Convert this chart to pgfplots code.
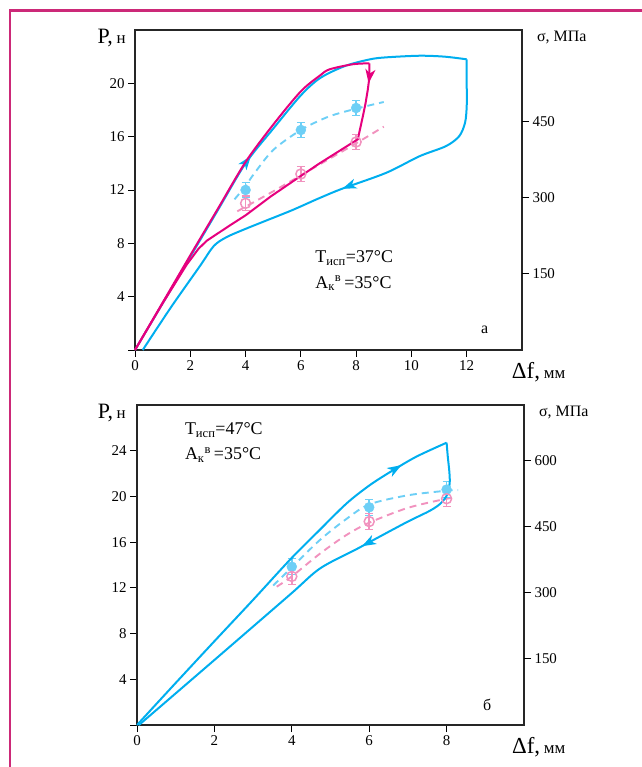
\documentclass[border=0pt]{standalone}
\usepackage{fontspec}
\setmainfont{Liberation Serif}
\usepackage{pgfplots}
\pgfplotsset{compat=1.18}
\usetikzlibrary{decorations.markings,arrows.meta}

\definecolor{cyanL}{RGB}{0,174,239}
\definecolor{magL}{RGB}{230,0,126}
\definecolor{ltblue}{RGB}{109,207,246}
\definecolor{ltpink}{RGB}{241,146,190}
\definecolor{frameC}{RGB}{204,41,120}

\pgfplotsset{
  base/.style={scale only axis, width=387bp, height=320bp,
    axis line style={line width=2.1bp, black!85},
    tick style={line width=0.9bp, black},
    tick align=outside, major tick length=7bp,
    ticklabel style={font=\fontsize{15}{15}\selectfont},
    /pgf/number format/assume math mode=true,
    clip=false},
  leftax/.style={base, xtick pos=bottom, ytick pos=left},
  rightax/.style={base, axis x line=none, axis y line*=right, xmin=0, xmax=1,
    ytick pos=right, axis line style={draw=none}},
  solidc/.style={line width=2bp, smooth, no marks},
  dashc/.style={line width=1.9bp, smooth, no marks, dash pattern=on 7bp off 5bp},
  arr/.style={postaction={decorate}, decoration={markings, mark=at position #1 with {\arrow{Stealth[length=14bp,width=10bp,inset=4bp]}}}},
  bluemk/.style={only marks, mark=*, mark size=5bp, color=ltblue,
    mark options={fill=ltblue, draw=ltblue},
    error bars/.cd, y dir=both, y explicit,
    error bar style={line width=1.5bp, ltblue}, error mark options={rotate=90, mark size=4bp, line width=1.5bp, ltblue}},
  pinkmk/.style={only marks, mark=o, mark size=5bp, color=ltpink,
    mark options={draw=ltpink, line width=1.5bp},
    error bars/.cd, y dir=both, y explicit,
    error bar style={line width=1.5bp, ltpink}, error mark options={rotate=90, mark size=4bp, line width=1.5bp, ltpink}},
}

\begin{document}
\begin{tikzpicture}
\useasboundingbox (0,0) rectangle (642bp,767bp);
\draw[frameC, line width=2.4bp] (9.7bp,0) -- (9.7bp,756.3bp) -- (642bp,756.3bp);

% ---------------- Panel a ----------------
\begin{axis}[leftax, name=pa, at={(135bp,417bp)}, anchor=south west,
  xmin=0, xmax=14, ymin=0, ymax=24,
  xtick={0,2,4,6,8,10,12}, ytick={0,4,8,12,16,20}, yticklabels={,4,8,12,16,20}]
\addplot[dashc, ltblue] coordinates {(3.6,11.3) (4.0,12.3) (4.3,13.2) (5.0,15.0) (6.0,16.5) (7.0,17.5) (8.0,18.1) (9.0,18.6)};
\addplot[dashc, ltpink] coordinates {(3.7,10.4) (5,11.9) (6,13.1) (7,14.3) (8,15.5) (9,16.75)};
\addplot[bluemk] coordinates {(4,12.0) +- (0,0.55) (6,16.5) +- (0,0.55) (8,18.15) +- (0,0.55)};
\addplot[pinkmk] coordinates {(4,11.0) +- (0,0.55) (6,13.2) +- (0,0.55) (8,15.6) +- (0,0.55)};
% cyan loop
\addplot[solidc, cyanL, arr=226bp] coordinates {(0,0) (1,3.5) (2,7.0) (3,10.5) (4,14.0) (5,16.6) (6,19.1) (6.7,20.4) (7.6,21.3) (8.5,21.8) (9.1,21.95) (10.3,22.07) (11.2,22.0) (12,21.8)};
\addplot[solidc, cyanL, arr=207bp] coordinates {(12,21.8) (12.0,20.0) (12.0,18.3) (11.94,17.05) (11.73,16.04) (11.25,15.29) (10.29,14.53) (9.09,13.29) (7.5,12.1) (6.68,11.4) (5.7,10.5) (4.8,9.75) (3.9,9.0) (3.3,8.45) (2.85,7.8) (2.35,6.3) (1.3,3.2) (0.28,0)};
% magenta loop
\addplot[solidc, magL] coordinates {(0,0) (1,3.55) (2,7.1) (3,10.6) (4,14.1) (5,16.9) (6,19.4) (6.7,20.6) (7.04,21.05) (7.88,21.43) (8.48,21.5)};
\addplot[line width=2bp, no marks, magL, arr=20bp] coordinates {(8.48,21.5) (8.47,20.3) (8.42,19.5) (8.34,18.5) (8.24,17.5) (8.06,15.8) (6.68,14.0) (5.96,13.0) (4.9,11.5) (4.0,10.1) (3.4,9.3) (3.0,8.75) (2.6,8.2) (2.3,7.6) (1.87,6.4) (1,3.5) (0,0)};
\node[anchor=west, font=\fontsize{18}{18}\selectfont] at (axis cs:6.4,6.9) {T\textsubscript{исп}=37°C};
\node[anchor=west, font=\fontsize{18}{18}\selectfont] at (axis cs:6.4,5.0) {A\textsubscript{к}\textsuperscript{в}\,=35°C};
\node[font=\fontsize{16}{16}\selectfont] at (axis cs:12.65,1.5) {а};
\node[anchor=east] at (rel axis cs:-0.015,0.975) {\fontsize{22}{22}\selectfont P,\,\fontsize{17}{17}\selectfont н};
\node[anchor=west] at (rel axis cs:0.965,-0.068) {\fontsize{23}{23}\selectfont Δf,\,\fontsize{17}{17}\selectfont мм};
\end{axis}
\begin{axis}[rightax, at={(135bp,417bp)}, anchor=south west, ymin=0, ymax=630, ytick={150,300,450}]
\node[anchor=west, font=\fontsize{16}{16}\selectfont] at (rel axis cs:1.03,0.975) {σ, МПа};
\end{axis}

% ---------------- Panel b ----------------
\begin{axis}[leftax, name=pb, at={(137bp,42bp)}, anchor=south west,
  xmin=0, xmax=10, ymin=0, ymax=28,
  xtick={0,2,4,6,8}, ytick={0,4,8,12,16,20,24}, yticklabels={,4,8,12,16,20,24}]
\addplot[dashc, ltblue] coordinates {(3.52,12.2) (4.0,13.8) (4.73,16.2) (5.4,18.0) (6.0,19.3) (7.0,20.1) (8.0,20.5) (8.3,20.55)};
\addplot[dashc, ltpink] coordinates {(3.61,12.1) (4.0,13.0) (4.73,15.0) (5.4,16.6) (6.0,17.7) (7.0,19.0) (8.0,19.8) (8.2,19.85)};
\addplot[bluemk] coordinates {(4,13.85) +- (0,0.7) (6,19.05) +- (0,0.7) (8,20.6) +- (0,0.7)};
\addplot[pinkmk] coordinates {(4,13.0) +- (0,0.7) (6,17.8) +- (0,0.7) (8,19.8) +- (0,0.7)};
\addplot[solidc, cyanL, arr=372bp] coordinates {(0,0) (1,3.68) (2,7.33) (3,10.95) (3.95,14.45) (4.7,17.0) (5.42,19.4) (6.02,21.0) (6.62,22.3) (7.23,23.5) (8.0,24.7)};
\addplot[solidc, cyanL, arr=153bp] coordinates {(8.0,24.7) (8.03,23.5) (8.07,22.2) (8.08,21.2) (8.02,20.2) (7.85,19.4) (7.57,18.75) (7.0,17.8) (6.28,16.5) (5.68,15.4) (4.73,13.7) (3.95,11.4) (1.97,5.6) (0.05,0)};
\node[anchor=west, font=\fontsize{18}{18}\selectfont] at (axis cs:1.15,25.8) {T\textsubscript{исп}=47°C};
\node[anchor=west, font=\fontsize{18}{18}\selectfont] at (axis cs:1.15,23.6) {A\textsubscript{к}\textsuperscript{в}\,=35°C};
\node[font=\fontsize{16}{16}\selectfont] at (axis cs:9.05,1.75) {б};
\node[anchor=east] at (rel axis cs:-0.02,0.975) {\fontsize{22}{22}\selectfont P,\,\fontsize{17}{17}\selectfont н};
\node[anchor=west] at (rel axis cs:0.96,-0.068) {\fontsize{23}{23}\selectfont Δf,\,\fontsize{17}{17}\selectfont мм};
\end{axis}
\begin{axis}[rightax, at={(137bp,42bp)}, anchor=south west, ymin=0, ymax=726, ytick={150,300,450,600}]
\node[anchor=west, font=\fontsize{16}{16}\selectfont] at (rel axis cs:1.03,0.975) {σ, МПа};
\end{axis}
\end{tikzpicture}
\end{document}
